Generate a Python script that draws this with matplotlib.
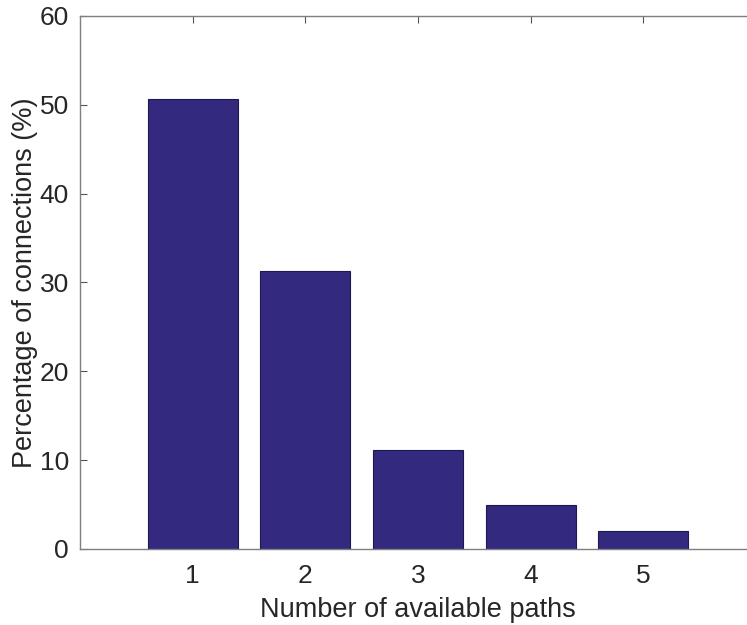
import matplotlib
matplotlib.use("Agg")
import matplotlib.pyplot as plt

# dados
caminhos = [1, 2, 3, 4, 5]
porcentagem = [50.6, 31.3, 11.1, 4.9, 2.0]
yticks = [0, 10, 20, 30, 40, 50, 60]

plt.rcParams["font.family"] = ["Liberation Sans", "DejaVu Sans"]

fig = plt.figure(figsize=(7.47, 6.25), dpi=100)
# eixo passa um pouco da borda direita (imagem original cortada)
ax = fig.add_axes([0.107, 0.1216, 0.905, 0.853])

ax.bar(caminhos, porcentagem, width=0.8, color="#33297f",
       edgecolor="#1c1850", linewidth=0.8, zorder=2)

ax.set_xlim(0, 6)
ax.set_ylim(0, 60)
ax.set_xticks(caminhos)
ax.set_yticks(yticks)

ax.tick_params(direction="in", length=5, width=0.8, color="#555555",
               labelsize=19, labelcolor="#262626", top=True, right=True, pad=8)
ax.tick_params(axis="x", pad=11)
for s in ax.spines.values():
    s.set_color("#7f7f7f")
    s.set_linewidth(1.0)

ax.set_xlabel("Number of available paths", fontsize=19.5, color="#262626", labelpad=6)
ax.set_ylabel("Percentage of connections (%)", fontsize=19.5, color="#262626", labelpad=1)

fig.savefig("out.png", dpi=100)
